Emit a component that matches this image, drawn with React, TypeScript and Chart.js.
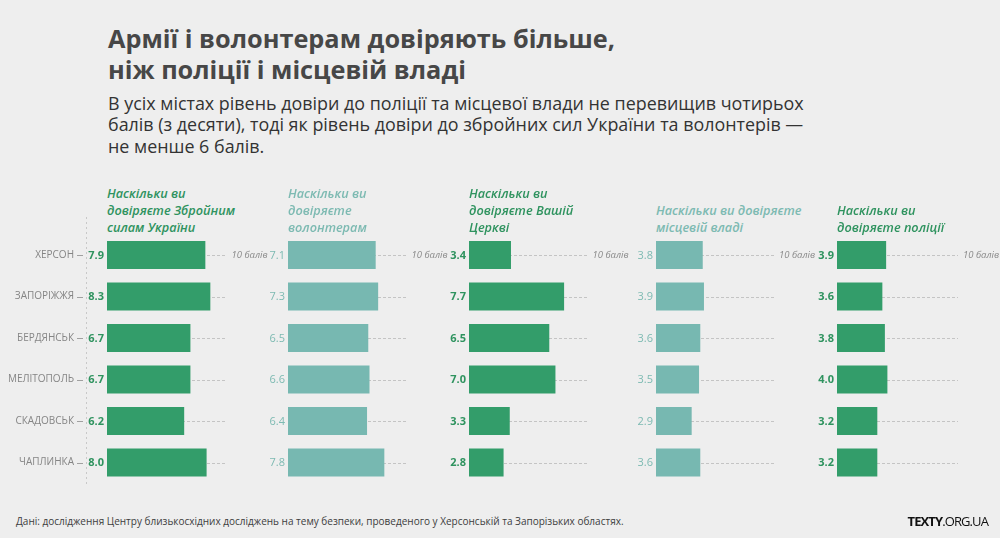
import React, { useEffect, useRef } from 'react';
import { Chart, registerables } from 'chart.js';

Chart.register(...registerables);

// ---------- data ----------
const cities = ['ХЕРСОН', 'ЗАПОРІЖЖЯ', 'БЕРДЯНСЬК', 'МЕЛІТОПОЛЬ', 'СКАДОВСЬК', 'ЧАПЛИНКА'];
const armyTrust = [7.9, 8.3, 6.7, 6.7, 6.2, 8.0];
const volunteerTrust = [7.1, 7.3, 6.5, 6.6, 6.4, 7.8];
const churchTrust = [3.4, 7.7, 6.5, 7.0, 3.3, 2.8];
const localAuthorityTrust = [3.8, 3.9, 3.6, 3.5, 2.9, 3.6];
const policeTrust = [3.9, 3.6, 3.8, 4.0, 3.2, 3.2];
const panelHeaders = [
  'Наскільки ви\nдовіряєте Збройним\nсилам України',
  'Наскільки ви\nдовіряєте\nволонтерам',
  'Наскільки ви\nдовіряєте Вашій\nЦеркві',
  'Наскільки ви довіряєте\nмісцевій владі',
  'Наскільки ви\nдовіряєте поліції',
];
const scaleMax = 10;
const scaleMaxLabel = '10 балів';

const titleText = 'Армії і волонтерам довіряють більше,\nніж поліції і місцевій владі';
const subtitleText =
  'В усіх містах рівень довіри до поліції та місцевої влади не перевищив чотирьох\nбалів (з десяти), тоді як рівень довіри до збройних сил України та волонтерів —\nне менше 6 балів.';
const sourceText =
  'Дані: дослідження Центру близькосхідних досліджень на тему безпеки, проведеного у Херсонській та Запорізьких областях.';

// ---------- styles / layout ----------
const DARK = '#339d6a';
const TEAL = '#77b8b1';
const DARK_TEXT = '#2f935f';
const TEAL_TEXT = '#7dbab2';
const FONT = '"Open Sans", sans-serif';

const panels = [
  { values: armyTrust, header: panelHeaders[0], dark: true, left: 107, width: 124.5 },
  { values: volunteerTrust, header: panelHeaders[1], dark: false, left: 288, width: 123.5 },
  { values: churchTrust, header: panelHeaders[2], dark: true, left: 469, width: 123.5 },
  { values: localAuthorityTrust, header: panelHeaders[3], dark: false, left: 656, width: 123 },
  { values: policeTrust, header: panelHeaders[4], dark: true, left: 837, width: 126 },
];

const CANVAS_TOP = 210;
const CANVAS_H = 290;
const ROW_FIRST = 255;
const ROW_STEP = 41.5;

function Panel({ p, first }: { p: any; first: boolean }) {
  const ref = useRef<HTMLCanvasElement>(null);
  const canvasLeft = first ? 0 : p.left - 40;
  const canvasW = Math.ceil(p.left - canvasLeft + p.width + 60);

  useEffect(() => {
    if (!ref.current) return;
    const padLeft = first ? 0 : p.left - canvasLeft;
    const padRight = canvasW - (p.left - canvasLeft) - p.width;
    const bandTop = ROW_FIRST - ROW_STEP / 2 - CANVAS_TOP;
    const bandBottom = ROW_FIRST + ROW_STEP * (cities.length - 0.5) - CANVAS_TOP;

    const overlay = {
      id: 'overlay',
      beforeDatasetsDraw(chart: any) {
        const { ctx, scales } = chart;
        const x = scales.x;
        const y = scales.y;
        ctx.save();
        ctx.strokeStyle = '#c4c4c4';
        ctx.lineWidth = 1;
        ctx.setLineDash([3, 2]);
        cities.forEach((_c, i) => {
          const yy = Math.round(y.getPixelForValue(i)) + 0.5;
          ctx.beginPath();
          ctx.moveTo(x.getPixelForValue(0), yy);
          ctx.lineTo(x.getPixelForValue(scaleMax) - 5, yy);
          ctx.stroke();
        });
        ctx.restore();
      },
      afterDatasetsDraw(chart: any) {
        const { ctx, scales } = chart;
        const x = scales.x;
        const y = scales.y;
        ctx.save();
        ctx.textBaseline = 'middle';
        ctx.textAlign = 'right';
        ctx.fillStyle = p.dark ? DARK_TEXT : TEAL_TEXT;
        ctx.font = `${p.dark ? '700' : '400'} 11px ${FONT}`;
        p.values.forEach((v: number, i: number) => {
          ctx.fillText(v.toFixed(1), x.getPixelForValue(0) - 3, y.getPixelForValue(i) + 0.5);
        });
        ctx.textAlign = 'left';
        ctx.fillStyle = '#8a8a8a';
        ctx.font = `italic 400 9.5px ${FONT}`;
        ctx.fillText(scaleMaxLabel, x.getPixelForValue(scaleMax), y.getPixelForValue(0) + 0.5);
        if (first) {
          const ax = 86.5 - canvasLeft;
          ctx.strokeStyle = '#c8c8c8';
          ctx.lineWidth = 1;
          ctx.setLineDash([2, 3]);
          ctx.beginPath();
          ctx.moveTo(ax, 217 - CANVAS_TOP);
          ctx.lineTo(ax, 484 - CANVAS_TOP);
          ctx.stroke();
          ctx.setLineDash([]);
          ctx.strokeStyle = '#a0a0a0';
          cities.forEach((_c, i) => {
            const yy = Math.round(y.getPixelForValue(i)) + 0.5;
            ctx.beginPath();
            ctx.moveTo(77 - canvasLeft, yy);
            ctx.lineTo(83 - canvasLeft, yy);
            ctx.stroke();
          });
        }
        ctx.restore();
      },
    };

    const chart = new Chart(ref.current, {
      type: 'bar',
      data: {
        labels: cities,
        datasets: [
          {
            data: p.values,
            backgroundColor: p.dark ? DARK : TEAL,
            borderWidth: 0,
            barPercentage: 0.67,
            categoryPercentage: 1,
          },
        ],
      },
      options: {
        indexAxis: 'y',
        animation: false,
        responsive: false,
        maintainAspectRatio: false,
        events: [],
        layout: {
          padding: { left: padLeft, right: padRight, top: bandTop, bottom: CANVAS_H - bandBottom },
        },
        scales: {
          x: { type: 'linear', min: 0, max: scaleMax, display: false },
          y: {
            type: 'category',
            display: first,
            grid: { display: false, drawTicks: false },
            border: { display: false },
            ticks: {
              padding: p.left - 74,
              color: '#858585',
              font: { family: FONT, size: 10, weight: '400' },
            },
            afterFit: (s: any) => {
              if (first) {
                s.width = p.left;
                s.paddingTop = 0;
                s.paddingBottom = 0;
              }
            },
          },
        },
        plugins: {
          legend: { display: false },
          tooltip: { enabled: false },
          title: { display: false },
        },
      } as any,
      plugins: [overlay],
    });
    return () => chart.destroy();
  }, []);

  const lines = p.header.split('\n').length;
  return (
    <>
      <div
        style={{
          position: 'absolute',
          left: p.left,
          top: 236 - lines * 17,
          fontFamily: FONT,
          fontStyle: 'italic',
          fontWeight: 600,
          fontSize: 12.7,
          lineHeight: '17px',
          color: p.dark ? DARK_TEXT : TEAL_TEXT,
          whiteSpace: 'pre',
        }}
      >
        {p.header}
      </div>
      <canvas
        ref={ref}
        width={canvasW}
        height={CANVAS_H}
        style={{ position: 'absolute', left: canvasLeft, top: CANVAS_TOP, width: canvasW, height: CANVAS_H }}
      />
    </>
  );
}

export default function App() {
  return (
    <div
      style={{
        position: 'absolute',
        left: 0,
        top: 0,
        width: 1000,
        height: 538,
        background: '#eeeeee',
        overflow: 'hidden',
        fontFamily: FONT,
      }}
    >
      <div
        style={{
          position: 'absolute',
          left: 108,
          top: 22.5,
          fontSize: 25.3,
          fontWeight: 700,
          lineHeight: '31px',
          color: '#474747',
          whiteSpace: 'pre',
        }}
      >
        {titleText}
      </div>
      <div
        style={{
          position: 'absolute',
          left: 108,
          top: 92.5,
          fontSize: 17.9,
          fontWeight: 400,
          lineHeight: '21.5px',
          color: '#333333',
          whiteSpace: 'pre',
        }}
      >
        {subtitleText}
      </div>
      {panels.map((p, i) => (
        <Panel key={i} p={p} first={i === 0} />
      ))}
      <div
        style={{
          position: 'absolute',
          left: 16,
          top: 513,
          fontSize: 10,
          lineHeight: '16px',
          color: '#3d3d3d',
          whiteSpace: 'pre',
        }}
      >
        {sourceText}
      </div>
      <div
        style={{
          position: 'absolute',
          right: 12,
          top: 512,
          fontSize: 13,
          lineHeight: '18px',
          color: '#111',
          letterSpacing: -0.9,
          whiteSpace: 'pre',
        }}
      >
        <span style={{ fontWeight: 700 }}>TEXTY</span>
        <span>.ORG.UA</span>
      </div>
    </div>
  );
}
